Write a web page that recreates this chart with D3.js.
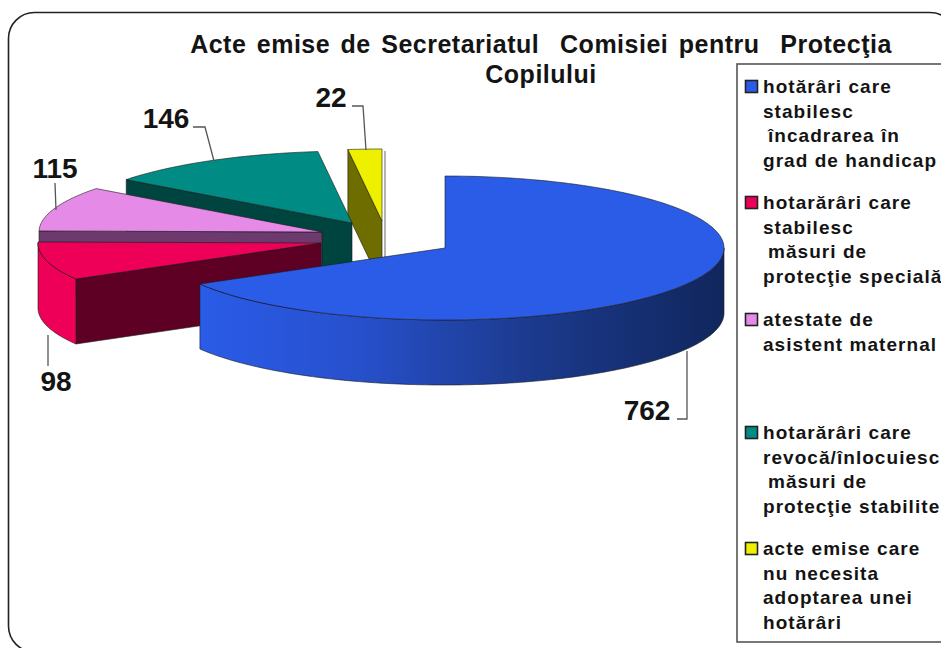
<!DOCTYPE html>
<html>
<head>
	<meta charset="utf-8">
	<title>Acte emise</title>
	<script src="https://d3js.org/d3.v7.min.js"></script>
	<style>
		html, body { margin: 0; padding: 0; background: #fff; overflow: hidden; }
		svg { display: block; }
		text { font-family: "Liberation Sans", Arial, sans-serif; font-weight: bold; fill: #141414; }
	</style>
</head>
<body>
<script>
// Data
var categories = ["hotărâri care stabilesc încadrarea în grad de handicap",
	"hotarărâri care stabilesc măsuri de protecţie specială",
	"atestate de asistent maternal",
	"hotarărâri care revocă/înlocuiesc măsuri de protecţie stabilite",
	"acte emise care nu necesita adoptarea unei hotărâri"];
var values = [762, 98, 115, 146, 22];
var titleLines = ["Acte emise de Secretariatul  Comisiei pentru  Protecţia", "Copilului"];
var legendLines = [
	["hotărâri care", "stabilesc", " încadrarea în", "grad de handicap"],
	["hotarărâri care", "stabilesc", " măsuri de", "protecţie specială"],
	["atestate de", "asistent maternal"],
	["hotarărâri care", "revocă/înlocuiesc", " măsuri de", "protecţie stabilite"],
	["acte emise care", "nu necesita", "adoptarea unei", "hotărâri"]
];

var width = 941, height = 648;

// colours per slice: top face, cut face
var topColors = ["#2a5ce8", "#ee0058", "#e68ae8", "#008c84", "#efef00"];
var cutColors = ["#2a5ce8", "#5e0024", "#6c3a6c", "#004440", "#6e6e00"];

// exploded centre of each slice on the page
var centres = [[445, 248], [321, 243], [322, 232], [352, 223], [382, 221]];
// the left half comes out slightly wider than the right in the original perspective
var rxLeft = 283, rxRight = 279, ry = 72, depth = 65;

// legend rows
var legendY = [93, 209, 326, 439, 555];
var rowStep = 24.5;

// value labels with their leader lines
var labelPos = [[647, 420], [56, 391], [55, 178], [166, 128], [331, 107]];
var leaders = [
	[[687, 351], [687, 419], [677, 419]],
	[[48, 335], [48, 366]],
	[[55, 183], [56, 210]],
	[[193, 127], [205, 127], [214, 161]],
	[[352, 106], [363, 106], [366, 150]]
];

var svg = d3.select("body").append("svg")
	.attr("width", width)
	.attr("height", height);

var defs = svg.append("defs");
var grad = defs.append("linearGradient").attr("id", "blueSide")
	.attr("gradientUnits", "userSpaceOnUse")
	.attr("x1", 200).attr("x2", 724).attr("y1", 0).attr("y2", 0);
grad.append("stop").attr("offset", "0%").attr("stop-color", "#2a5ce8");
grad.append("stop").attr("offset", "30%").attr("stop-color", "#2750cc");
grad.append("stop").attr("offset", "60%").attr("stop-color", "#1d3c92");
grad.append("stop").attr("offset", "100%").attr("stop-color", "#10265c");

// outer frame, runs off the right and bottom of the page
svg.append("rect")
	.attr("x", 8.5).attr("y", 12.5)
	.attr("width", 947.5).attr("height", 639.5)
	.attr("rx", 26).attr("ry", 26)
	.attr("fill", "#fff")
	.attr("stroke", "#222")
	.attr("stroke-width", 1.6);

// title
svg.selectAll(".title").data(titleLines).enter().append("text")
	.attr("class", "title")
	.attr("x", 541)
	.attr("y", function(d, i) { return 53 + i * 30; })
	.attr("text-anchor", "middle")
	.attr("font-size", "25px")
	.attr("letter-spacing", "0.5px")
	.attr("word-spacing", "3px")
	.style("white-space", "pre")
	.text(function(d) { return d; });

// slices, clockwise from 12 o'clock
var pie = d3.pie().sort(null).value(function(d) { return d; });
var arcs = pie(values);

function pt(c, a, dy) {
	var s = Math.sin(a);
	return [c[0] + (s < 0 ? rxLeft : rxRight) * s, c[1] - ry * Math.cos(a) + (dy || 0)];
}
function arcPts(c, a0, a1, dy) {
	var n = Math.max(2, Math.ceil((a1 - a0) / 0.02));
	return d3.range(n + 1).map(function(i) {
		return pt(c, a0 + (a1 - a0) * i / n, dy);
	});
}
var line = d3.line();
var edge = "#1a1a1a";

function face(pts, fill) {
	svg.append("path")
		.attr("d", line(pts) + "Z")
		.attr("fill", fill)
		.attr("stroke", edge)
		.attr("stroke-opacity", 0.75)
		.attr("stroke-width", 0.8)
		.attr("stroke-linejoin", "round");
}

// back to front: yellow, teal, pink, red, blue
[4, 3, 2, 1, 0].forEach(function(i) {
	var d = arcs[i], c = centres[i];
	var a0 = d.startAngle, a1 = d.endAngle;
	var apex = [c[0], c[1]];
	var apexLow = [c[0], c[1] + depth];

	// cut face on the start side, when it looks at the viewer
	if (i !== 0) {
		face([apex, pt(c, a0), pt(c, a0, depth), apexLow], cutColors[i]);
	}
	// thin line right of the yellow slice
	if (i === 4) {
		var p1 = pt(c, a1);
		svg.append("line")
			.attr("x1", p1[0] + 3).attr("x2", p1[0] + 3)
			.attr("y1", p1[1] + 2).attr("y2", p1[1] + 110)
			.attr("stroke", "#666").attr("stroke-width", 1);
	}
	// outer wall, front half only
	var w0 = Math.max(a0, Math.PI / 2), w1 = Math.min(a1, 3 * Math.PI / 2);
	if (w1 > w0) {
		var upper = arcPts(c, w0, w1);
		var lower = arcPts(c, w0, w1, depth).reverse();
		face(upper.concat(lower), i === 0 ? "url(#blueSide)" : topColors[i]);
	}
	// top face
	face([apex].concat(arcPts(c, a0, a1)), topColors[i]);
});

// value labels and leaders
leaders.forEach(function(l) {
	svg.append("path")
		.attr("d", line(l))
		.attr("fill", "none")
		.attr("stroke", "#555")
		.attr("stroke-width", 1.3);
});
svg.selectAll(".val").data(values).enter().append("text")
	.attr("class", "val")
	.attr("x", function(d, i) { return labelPos[i][0]; })
	.attr("y", function(d, i) { return labelPos[i][1]; })
	.attr("text-anchor", "middle")
	.attr("font-size", "28px")
	.text(function(d) { return d; });

// legend
svg.append("rect")
	.attr("x", 737).attr("y", 64)
	.attr("width", 260).attr("height", 578)
	.attr("fill", "#fff")
	.attr("stroke", "#555")
	.attr("stroke-width", 1.6);

legendLines.forEach(function(rows, i) {
	svg.append("rect")
		.attr("x", 745.5).attr("y", legendY[i] - 12.5)
		.attr("width", 12).attr("height", 12)
		.attr("fill", topColors[i])
		.attr("stroke", "#222")
		.attr("stroke-width", 1.6);
	svg.selectAll(null).data(rows).enter().append("text")
		.attr("x", function(d) { return d.charAt(0) === " " ? 768 : 763; })
		.attr("y", function(d, j) { return legendY[i] + j * rowStep; })
		.attr("font-size", "19px")
		.attr("letter-spacing", "1.05px")
		.text(function(d) { return d.trim(); });
});
</script>
</body>
</html>
